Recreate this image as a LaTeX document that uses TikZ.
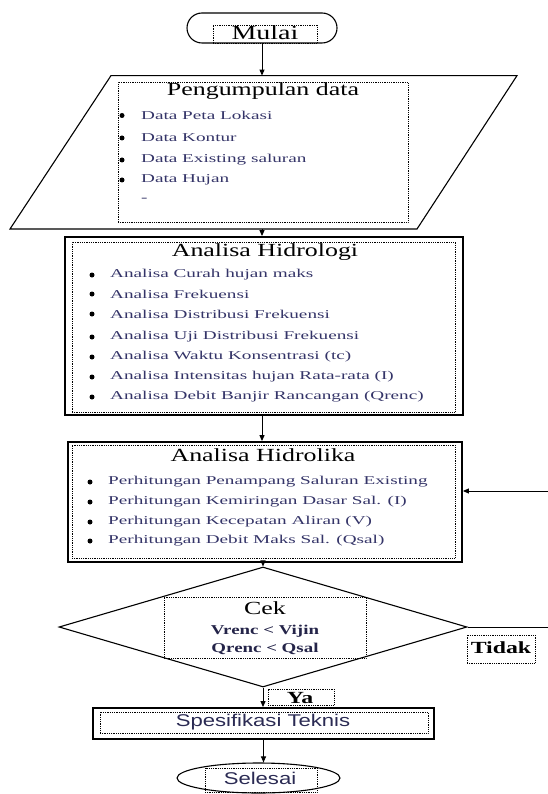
\documentclass[tikz,border=0pt]{standalone}
\usepackage{fontspec}
\setmainfont{Liberation Serif}
\newfontfamily\wideserif[FakeStretch=1.4]{Liberation Serif}
\newfontfamily\itemserif[FakeStretch=1.6]{Liberation Serif}
\newfontfamily\widesans[FakeStretch=1.3]{Liberation Sans}
\usetikzlibrary{shapes.geometric,arrows.meta}
\definecolor{itemtxt}{RGB}{52,52,104}

\begin{document}
\begin{tikzpicture}[
  x=1pt, y=-1pt,
  line/.style={draw=black, line width=1.1pt},
  flow/.style={draw=black, line width=1pt, -{Triangle[length=6pt,width=5pt]}},
  dotbox/.style={draw=black, dash pattern=on 0.9pt off 0.9pt, line width=0.9pt, inner sep=0pt},
  term/.style={line, rounded corners=15pt, inner sep=0pt},
  proc/.style={draw=black, line width=1.8pt, inner sep=0pt},
  decide/.style={line, diamond, inner sep=0pt},
  stop/.style={line, ellipse, inner sep=0pt},
  ttl/.style={font=\wideserif\fontsize{18.5}{20}\selectfont, inner sep=0pt},
  lbl/.style={font=\wideserif\bfseries\fontsize{17}{19}\selectfont, inner sep=0pt},
  itm/.style={font=\itemserif\fontsize{12}{13}\selectfont, text=itemtxt, inner sep=0pt, anchor=west},
  bul/.style={circle, fill=black, inner sep=0pt, minimum size=5pt},
  sans/.style={font=\widesans\fontsize{17}{19}\selectfont, text=itemtxt!80!black, inner sep=0pt},
]
\useasboundingbox (0,0) rectangle (547,794);

% ── Mulai ───────────────────────────────────────────────
\node[term, minimum width=150, minimum height=30] (mulai) at (262,28) {};
\node[dotbox, minimum width=104, minimum height=18] (mulaibox) at (265,34) {};
\node[ttl, font=\wideserif\fontsize{20}{22}\selectfont] (mulaitxt) at (265,33) {Mulai};

% ── Pengumpulan data (parallelogram) ────────────────────
\coordinate (datatop) at (262,75.6);
\coordinate (databot) at (262,229);
\draw[line] (10,229) -- (111,75.6) -- (517,75.6) -- (417,229) -- cycle;
\node[dotbox, minimum width=290, minimum height=140] (databox) at (263,152.5) {};
\node[ttl] (datattl) at (263,91) {Pengumpulan data};
\foreach \y/\t [count=\i] in {115.5/Data Peta Lokasi, 138/Data Kontur,
                              160/Data Existing saluran, 180/Data Hujan} {
  \node[bul] (db\i) at (122,\y) {};
  \node[itm] (d\i) at (141,\y) {\t};
}
\node[itm] (d5) at (141,200) {-};

% ── Analisa Hidrologi ───────────────────────────────────
\node[proc, minimum width=398, minimum height=178] (hidro) at (264,326) {};
\node[dotbox, minimum width=383, minimum height=170] (hidrobox) at (263.5,327) {};
\node[ttl] (hidrottl) at (265,252) {Analisa Hidrologi};
\foreach \y/\t [count=\i] in {275/Analisa Curah hujan maks,
                              294/Analisa Frekuensi,
                              314/Analisa Distribusi Frekuensi,
                              337/Analisa Uji Distribusi Frekuensi,
                              357/Analisa Waktu Konsentrasi (tc),
                              377/Analisa Intensitas hujan Rata-rata (I),
                              397/Analisa Debit Banjir Rancangan (Qrenc)} {
  \node[bul] (hb\i) at (92,\y) {};
  \node[itm] (h\i) at (110,\y) {\t};
}

% ── Analisa Hidrolika ───────────────────────────────────
\node[proc, minimum width=394, minimum height=120] (hidrol) at (265,502) {};
\node[dotbox, minimum width=383, minimum height=113] (hidrolbox) at (263.5,501.5) {};
\node[ttl] (hidrolttl) at (263,455) {Analisa Hidrolika};
\foreach \y/\t [count=\i] in {482/Perhitungan Penampang Saluran Existing,
                              502/Perhitungan Kemiringan Dasar Sal. (I),
                              522/Perhitungan Kecepatan Aliran (V),
                              541/Perhitungan Debit Maks Sal. (Qsal)} {
  \node[bul] (kb\i) at (90,\y) {};
  \node[itm] (k\i) at (108,\y) {\t};
}

% ── Cek ─────────────────────────────────────────────────
\node[decide, minimum width=408, minimum height=120] (cek) at (263,627) {};
\node[dotbox, minimum width=202, minimum height=61] (cekbox) at (265,627.5) {};
\node[ttl] (cekttl) at (265,608) {Cek};
\node[inner sep=0pt, text=itemtxt!70!black, font=\wideserif\bfseries\fontsize{13.5}{15}\selectfont]
  (cekv) at (265,631) {Vrenc < Vijin};
\node[inner sep=0pt, text=itemtxt!70!black, font=\wideserif\bfseries\fontsize{13.5}{15}\selectfont]
  (cekq) at (265,649) {Qrenc < Qsal};

\node[dotbox, minimum width=68, minimum height=28] (tidakbox) at (501,649) {};
\node[lbl] (tidak) at (501,648) {Tidak};
\node[dotbox, minimum width=66, minimum height=16] (yabox) at (301,697) {};
\node[lbl] (ya) at (300,698) {Ya};

% ── Spesifikasi Teknis ──────────────────────────────────
\node[proc, minimum width=341, minimum height=31] (spek) at (263.5,723.5) {};
\node[dotbox, minimum width=328, minimum height=21] (spekbox) at (264,722.5) {};
\node[sans] (spektxt) at (263,722) {Spesifikasi Teknis};

% ── Selesai ─────────────────────────────────────────────
\node[stop, minimum width=163, minimum height=30] (selesai) at (258.5,778) {};
\node[dotbox, minimum width=112, minimum height=24] (selesaibox) at (261,780) {};
\node[sans] (selesaitxt) at (260,778) {Selesai};

% ── connectors ──────────────────────────────────────────
\draw[flow] (mulai.south) -- (datatop);
\draw[flow] (databot) -- (databot |- hidro.north);
\draw[flow] (databot |- hidro.south) -- (databot |- hidrol.north);
\draw[flow] (cek.north |- hidrol.south) -- (cek.north);
\draw[flow] (cek.south) -- (cek.south |- spek.north);
\draw[flow] (spek.south) -- (spek.south |- selesai.north);
\draw[flow] (cek.east) -- ++(95,0) |- ([yshift=11pt]hidrol.east);

\end{tikzpicture}
\end{document}
